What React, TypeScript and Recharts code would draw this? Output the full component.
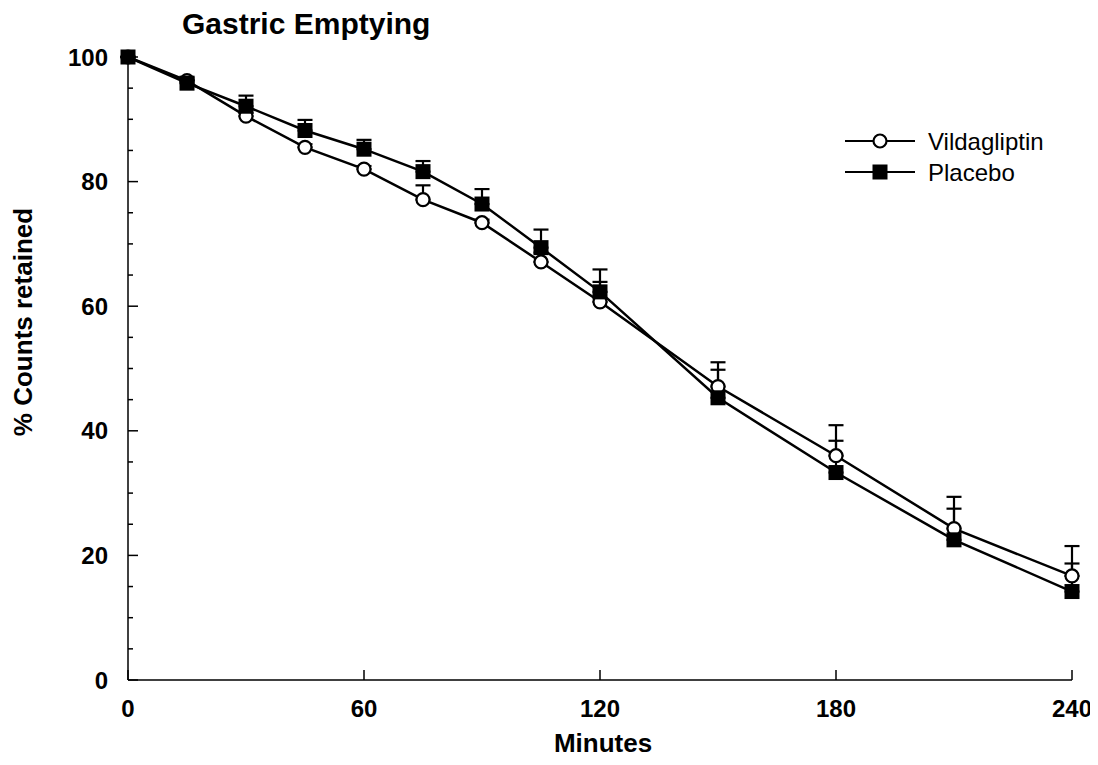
import React from 'react';
import { LineChart, Line, XAxis, YAxis, ErrorBar, Legend } from 'recharts';

const minutes = [0, 15, 30, 45, 60, 75, 90, 105, 120, 150, 180, 210, 240];
const vildagliptin = [100, 96.2, 90.5, 85.5, 82.0, 77.1, 73.4, 67.1, 60.7, 47.1, 36.0, 24.3, 16.7];
const vildagliptinSE = [0, 0.5, 0.5, 0.5, 0.5, 2.3, 0.5, 1.5, 3.2, 3.9, 4.9, 5.1, 4.8];
const placebo = [100, 95.8, 92.1, 88.2, 85.2, 81.6, 76.4, 69.4, 62.3, 45.3, 33.3, 22.5, 14.2];
const placeboSE = [0, 0.5, 1.7, 1.7, 1.5, 1.7, 2.4, 2.9, 3.6, 4.5, 5.1, 5.0, 4.5];
const xTicks = [0, 60, 120, 180, 240];
const yTicks = [0, 5, 10, 15, 20, 25, 30, 35, 40, 45, 50, 55, 60, 65, 70, 75, 80, 85, 90, 95, 100];
const seriesNames = ['Vildagliptin', 'Placebo'];
const title = 'Gastric Emptying';
const xLabel = 'Minutes';
const yLabel = '% Counts retained';

const data = minutes.map((m, i) => ({
  minute: m,
  vilda: vildagliptin[i],
  vildaErr: [0, vildagliptinSE[i]],
  placebo: placebo[i],
  placeboErr: [0, placeboSE[i]],
}));

const FONT = '"Liberation Sans", Arial, Helvetica, sans-serif';

const YTick = (props: any) => {
  const { x, y, payload } = props;
  const major = payload.value % 20 === 0;
  return (
    <g>
      <line x1={x} y1={y} x2={x + (major ? 10 : 5)} y2={y} stroke="#000" strokeWidth={1.5} />
      {major && (
        <text x={x - 20} y={y} textAnchor="end" dominantBaseline="central" fontSize={24} fontWeight="bold" fontFamily={FONT} fill="#000">
          {payload.value}
        </text>
      )}
    </g>
  );
};

const XTick = (props: any) => {
  const { x, y, payload } = props;
  return (
    <g>
      <line x1={x} y1={y} x2={x} y2={y - 10} stroke="#000" strokeWidth={1.5} />
      <text x={x} y={y + 28} textAnchor="middle" dominantBaseline="central" fontSize={24} fontWeight="bold" fontFamily={FONT} fill="#000">
        {payload.value}
      </text>
    </g>
  );
};

const SquareDot = (props: any) => {
  const { cx, cy, index } = props;
  if (cx == null || cy == null) return <g key={`sq-${index}`} />;
  return <rect key={`sq-${index}`} x={cx - 7.5} y={cy - 7.5} width={15} height={15} fill="#000" />;
};

const CustomLegend = () => (
  <svg width={260} height={80} style={{ display: 'block' }}>
    <g>
      <line x1={7} y1={23} x2={77} y2={23} stroke="#000" strokeWidth={2.2} />
      <circle cx={42} cy={23} r={6.5} fill="#fff" stroke="#000" strokeWidth={2.2} />
      <text x={90} y={31.5} fontSize={24} fontFamily={FONT} fill="#000">{seriesNames[0]}</text>
    </g>
    <g>
      <line x1={7} y1={54} x2={77} y2={54} stroke="#000" strokeWidth={2.2} />
      <rect x={34.5} y={46.5} width={15} height={15} fill="#000" />
      <text x={90} y={62.5} fontSize={24} fontFamily={FONT} fill="#000">{seriesNames[1]}</text>
    </g>
  </svg>
);

export default function App() {
  return (
    <div style={{ position: 'relative', width: 1090, height: 757, background: '#fff' }}>
      <LineChart width={1090} height={757} data={data} margin={{ top: 49, right: 26, left: 60, bottom: 25 }}>
        <XAxis
          dataKey="minute"
          type="number"
          domain={[0, 240]}
          ticks={xTicks}
          height={60}
          tickSize={0}
          tickMargin={0}
          tickLine={false}
          tick={<XTick />}
          axisLine={{ stroke: '#000', strokeWidth: 1.5 }}
          interval={0}
        />
        <YAxis
          type="number"
          domain={[0, 100]}
          ticks={yTicks}
          width={60}
          tickSize={0}
          tickMargin={0}
          tickLine={false}
          tick={<YTick />}
          axisLine={{ stroke: '#000', strokeWidth: 1.5 }}
          interval={0}
        />
        <Legend layout="vertical" align="center" verticalAlign="middle" wrapperStyle={{ left: 830, top: 110, width: 260, height: 80 }} content={<CustomLegend />} />
        <Line
          dataKey="vilda"
          name={seriesNames[0]}
          stroke="#000"
          strokeWidth={2.5}
          isAnimationActive={false}
          dot={{ r: 6.5, fill: '#fff', stroke: '#000', strokeWidth: 2.2 }}
          activeDot={false}
        >
          <ErrorBar dataKey="vildaErr" direction="y" width={7.5} stroke="#000" strokeWidth={2.2} isAnimationActive={false} />
        </Line>
        <Line
          dataKey="placebo"
          name={seriesNames[1]}
          stroke="#000"
          strokeWidth={2.5}
          isAnimationActive={false}
          dot={SquareDot}
          activeDot={false}
        >
          <ErrorBar dataKey="placeboErr" direction="y" width={7.5} stroke="#000" strokeWidth={2.2} isAnimationActive={false} />
        </Line>
      </LineChart>
      <svg width={1090} height={757} style={{ position: 'absolute', left: 0, top: 0, pointerEvents: 'none' }}>
        <text x={174} y={26} fontSize={30} fontWeight="bold" fontFamily={FONT} fill="#000">{title}</text>
        <text x={595} y={744} textAnchor="middle" fontSize={26} fontWeight="bold" fontFamily={FONT} fill="#000">{xLabel}</text>
        <text x={15} y={314} transform="rotate(-90 15 314)" textAnchor="middle" dominantBaseline="central" fontSize={26} fontWeight="bold" fontFamily={FONT} fill="#000">{yLabel}</text>
      </svg>
    </div>
  );
}
